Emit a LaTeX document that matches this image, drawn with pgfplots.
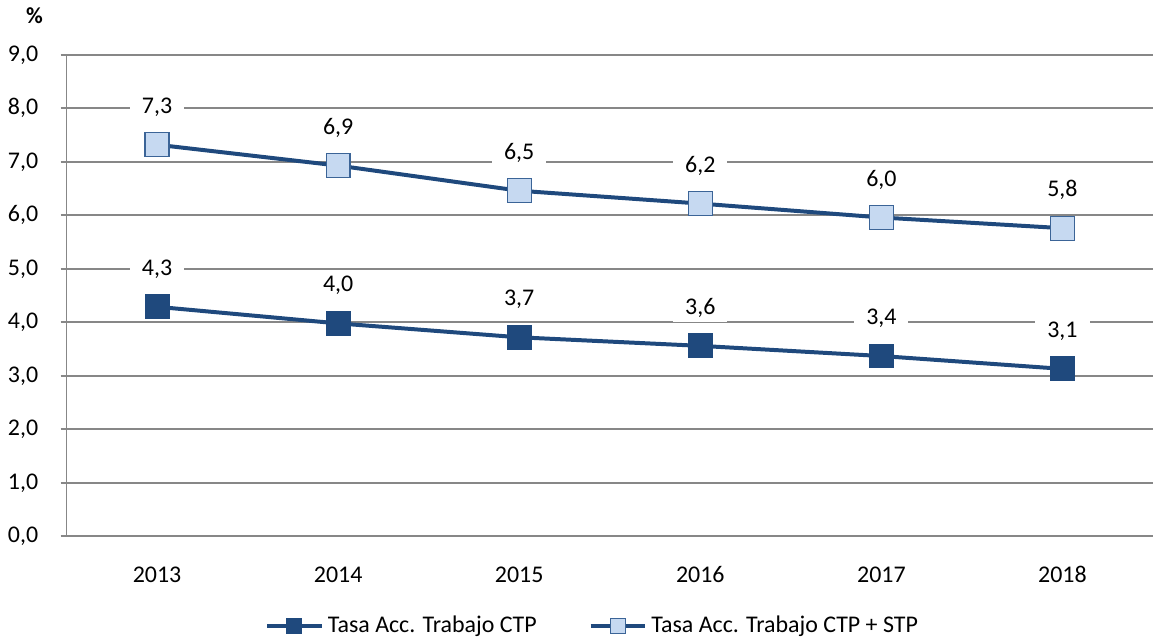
\documentclass[border=0pt]{standalone}
\usepackage{pgfplots}
\pgfplotsset{compat=1.18}
\usepackage{fontspec}
\setmainfont{Carlito}
\definecolor{navy}{RGB}{31,73,125}
\definecolor{lightblue}{RGB}{198,217,241}
\definecolor{lightedge}{RGB}{59,100,151}
\definecolor{gridgray}{RGB}{135,135,135}

\begin{document}
\begin{tikzpicture}
\fontsize{12}{14}\selectfont
\begin{axis}[
    at={(0pt,0pt)}, anchor=south west,
    scale only axis,
    width=545pt, height=241.5pt,
    xmin=-0.5, xmax=5.5,
    ymin=0, ymax=9,
    ytick={0,1,...,9},
    xtick={0,...,5},
    xticklabels={2013,2014,2015,2016,2017,2018},
    minor xtick={-0.5,0.5,...,5.5},
    axis x line*=bottom, axis y line*=left,
    axis line style={gridgray, line width=1pt, -},
    ymajorgrids,
    major grid style={gridgray, line width=0.9pt},
    tick align=outside,
    major tick length=3pt, minor tick length=3pt,
    xtick style={draw=none},
    ytick style={gridgray, line width=1pt},
    minor tick style={gridgray, line width=1pt},
    /pgf/number format/.cd, fixed, fixed zerofill, precision=1, use comma, assume math mode=true,
    /pgfplots/.cd,
    yticklabel style={xshift=-7pt},
    xticklabel style={yshift=-8pt},
    tick label style={font=\fontsize{12}{14}\selectfont},
    nodes near coords,
    every node near coord/.append style={font=\fontsize{12}{14}\selectfont, fill=white, inner xsep=6pt, inner ysep=2pt, anchor=center, yshift=19pt, text=black},
    legend style={at={(0.485,-0.186)}, anchor=center, draw=none, fill=none,
        font=\fontsize{12}{14}\selectfont, legend columns=2,
        nodes={inner xsep=2pt},
        /tikz/every even column/.append style={column sep=24pt}},
    legend cell align=left,
    legend image code/.code={\draw[#1, mark size=3.8pt, mark repeat=2, mark phase=2] plot coordinates {(0pt,0pt) (13.75pt,0pt) (27.5pt,0pt)};},
]
\addplot[navy, line width=2pt, mark=square*, mark size=6pt,
    mark options={fill=navy, draw=navy, line width=0.5pt}]
    coordinates {(0,4.29) (1,3.98) (2,3.72) (3,3.56) (4,3.37) (5,3.13)};
\addlegendentry{Tasa Acc. Trabajo CTP}
\addplot[navy, line width=2pt, mark=square*, mark size=6pt,
    mark options={fill=lightblue, draw=lightedge, line width=0.6pt}]
    coordinates {(0,7.32) (1,6.93) (2,6.46) (3,6.22) (4,5.96) (5,5.76)};
\addlegendentry{Tasa Acc. Trabajo CTP + STP}
\end{axis}
\node[font=\bfseries\fontsize{11.5}{13}\selectfont] at (-16pt,261pt) {\%};
\path[use as bounding box] (-31.5pt,-52.5pt) rectangle (545.5pt,269pt);
\end{tikzpicture}
\end{document}
